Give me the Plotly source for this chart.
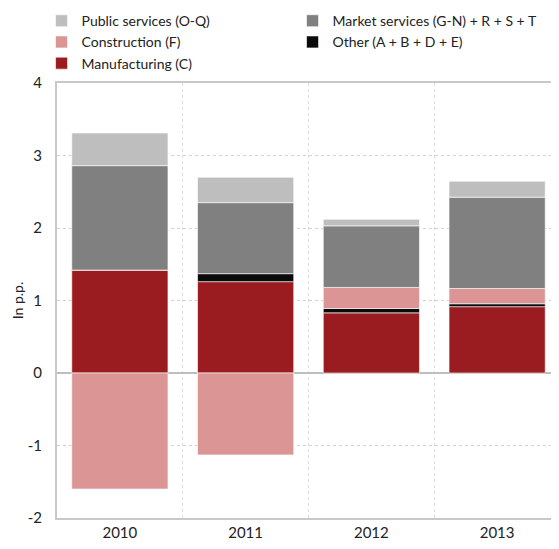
import plotly.graph_objects as go

years = [2010, 2011, 2012, 2013]
year_labels = ["2010", "2011", "2012", "2013"]

manufacturing = [1.42, 1.26, 0.83, 0.915]
other = [0.0, 0.11, 0.06, 0.04]
construction = [-1.60, -1.13, 0.29, 0.21]
market_services = [1.44, 0.98, 0.85, 1.26]
public_services = [0.45, 0.35, 0.09, 0.22]

series = [
    ("Manufacturing (C)", manufacturing, "#9B1C20", 5),
    ("Other (A + B + D + E)", other, "#0A0A0A", 4),
    ("Construction (F)", construction, "#DA9594", 3),
    ("Market services (G-N) + R + S + T", market_services, "#808080", 2),
    ("Public services (O-Q)", public_services, "#BEBEBE", 1),
]

fig = go.Figure()
for name, vals, color, rank in series:
    fig.add_trace(go.Bar(
        x=years, y=vals, name=name, legendrank=rank,
        marker=dict(color=color, line=dict(color="rgba(255,255,255,0.6)", width=1)),
        width=0.765,
    ))

fig.add_annotation(
    text="In p.p.", xref="paper", yref="paper", x=-0.078, y=0.5,
    textangle=-90, showarrow=False, font=dict(size=14, color="#222222"),
    xanchor="center", yanchor="middle",
)

fig.update_layout(
    barmode="relative",
    width=559, height=549,
    margin=dict(l=49, r=7, t=75, b=39, autoexpand=False),
    paper_bgcolor="white", plot_bgcolor="white",
    font=dict(family="Lato", size=14, color="#222222"),
    showlegend=True,
    legend=dict(
        orientation="h", xref="container", yref="paper",
        x=0.06, y=1.179, xanchor="left", yanchor="top",
        entrywidth=206, entrywidthmode="pixels",
        traceorder="normal", font=dict(size=14, color="#222222"),
        itemwidth=30, tracegroupgap=0, bgcolor="rgba(0,0,0,0)",
    ),
    xaxis=dict(
        range=[2009.5, 2013.5],
        tickvals=years, ticktext=year_labels,
        showgrid=False, ticks="", zeroline=False,
        showline=True, linecolor="#C8C8C8", linewidth=2, mirror=True,
        minor=dict(tickvals=[2010.5, 2011.5, 2012.5], showgrid=True,
                   gridcolor="#DCDCDC", griddash="dot", gridwidth=1, ticks=""),
        tickfont=dict(size=15),
    ),
    yaxis=dict(
        range=[-2, 4], tickvals=[-2, -1, 0, 1, 2, 3, 4],
        ticktext=["-2", "-1", "0", "1", "2", "3", "4"],
        showgrid=True, gridcolor="#D2D2D2", griddash="dot", gridwidth=1,
        zeroline=True, zerolinecolor="#BEBEBE", zerolinewidth=2,
        showline=True, linecolor="#C8C8C8", linewidth=2, mirror=True,
        ticks="", ticklabelstandoff=10,
        tickfont=dict(size=15),
    ),
)

fig.write_html("out.html")
